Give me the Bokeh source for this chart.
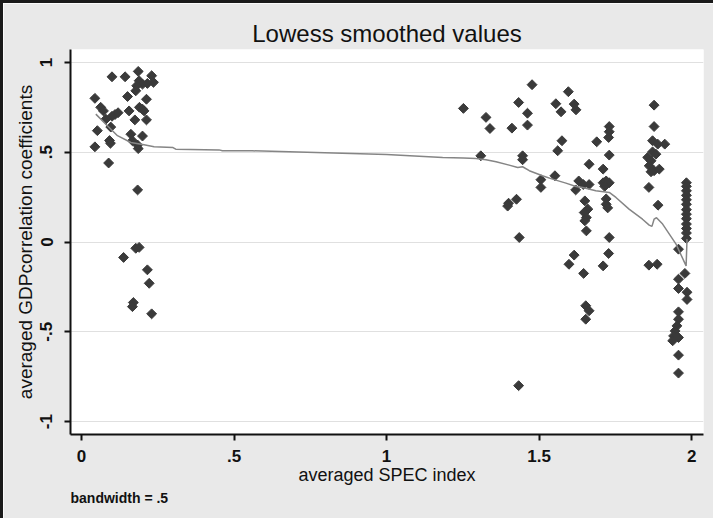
from bokeh.plotting import figure
from bokeh.models import FixedTicker, Range1d, Title
from bokeh.embed import file_html
from bokeh.resources import INLINE
import math

# ---- data ----
x_ticks = [0, 0.5, 1, 1.5, 2]
x_tick_labels = ["0", ".5", "1", "1.5", "2"]
y_ticks = [-1, -0.5, 0, 0.5, 1]
y_tick_labels = ["-1", "-.5", "0", ".5", "1"]

spec_x = [
    0.100, 0.143, 0.186, 0.230, 0.189, 0.200, 0.216, 0.236, 0.181, 0.178,
    0.044, 0.151, 0.213, 0.063, 0.072, 0.110, 0.120, 0.100, 0.080, 0.156,
    0.190, 0.200, 0.205, 0.175, 0.213, 0.052, 0.096, 0.162, 0.200, 0.092,
    0.095, 0.044, 0.167, 0.184, 0.186, 0.089, 0.184, 0.178, 0.189, 0.138,
    0.216, 0.222, 0.170, 0.167, 0.230,
    1.252, 1.477, 1.596, 1.433, 1.555, 1.572, 1.615, 1.621, 1.462, 1.326,
    1.339, 1.411, 1.462, 1.730, 1.730, 1.728, 1.689, 1.575, 1.561, 1.730,
    1.446, 1.446, 1.309, 1.664, 1.710, 1.552, 1.506, 1.506, 1.630, 1.645,
    1.664, 1.620, 1.710, 1.720, 1.730, 1.715, 1.400, 1.426, 1.397, 1.650,
    1.660, 1.648, 1.655, 1.650, 1.655, 1.720, 1.720, 1.725, 1.435, 1.730,
    1.728, 1.615, 1.598, 1.710, 1.646, 1.653, 1.664, 1.653, 1.433,
    1.877, 1.877, 1.872, 1.889, 1.912, 1.872, 1.883, 1.856, 1.867, 1.861,
    1.877, 1.894, 1.867, 1.860, 1.890, 1.860, 1.887,
    1.983, 1.983, 1.983, 1.983, 1.983, 1.983, 1.983, 1.983, 1.983, 1.983,
    1.983, 1.983, 1.983, 1.957, 1.978, 1.957, 1.957, 1.985, 1.985, 1.957,
    1.957, 1.952, 1.946, 1.941, 1.938, 1.957, 1.957, 1.957,
]
gdp_corr = [
    0.920, 0.920, 0.950, 0.926, 0.898, 0.879, 0.883, 0.889, 0.870, 0.842,
    0.800, 0.810, 0.795, 0.750, 0.730, 0.710, 0.720, 0.700, 0.684, 0.730,
    0.750, 0.740, 0.730, 0.680, 0.680, 0.620, 0.640, 0.600, 0.590, 0.565,
    0.550, 0.530, 0.564, 0.540, 0.520, 0.440, 0.290, -0.035, -0.030, -0.086,
    -0.155, -0.230, -0.337, -0.360, -0.400,
    0.744, 0.876, 0.837, 0.777, 0.770, 0.725, 0.768, 0.736, 0.717, 0.694,
    0.632, 0.634, 0.651, 0.643, 0.614, 0.582, 0.558, 0.564, 0.508, 0.484,
    0.480, 0.458, 0.480, 0.433, 0.406, 0.369, 0.347, 0.304, 0.340, 0.320,
    0.320, 0.290, 0.330, 0.340, 0.330, 0.310, 0.216, 0.238, 0.200, 0.229,
    0.183, 0.164, 0.136, 0.118, 0.062, 0.240, 0.210, 0.190, 0.025, 0.025,
    -0.064, -0.073, -0.124, -0.133, -0.175, -0.355, -0.383, -0.430, -0.800,
    0.762, 0.643, 0.564, 0.545, 0.545, 0.502, 0.489, 0.471, 0.452, 0.424,
    0.397, 0.406, 0.391, 0.304, 0.205, -0.129, -0.124,
    0.330, 0.310, 0.285, 0.260, 0.235, 0.210, 0.180, 0.155, 0.130, 0.100,
    0.075, 0.050, 0.020, -0.040, -0.175, -0.207, -0.259, -0.280, -0.320, -0.389,
    -0.430, -0.467, -0.495, -0.523, -0.550, -0.532, -0.630, -0.730,
]

lowess_x = [
    0.047, 0.085, 0.118, 0.162, 0.205, 0.238, 0.300, 0.309, 0.451, 0.462,
    0.560, 1.000, 1.184, 1.252, 1.293, 1.326, 1.359, 1.402, 1.430, 1.446,
    1.468, 1.511, 1.544, 1.588, 1.621, 1.643, 1.686, 1.730, 1.752, 1.795,
    1.839, 1.861, 1.870, 1.877, 1.885, 1.905, 1.949, 1.982, 1.985,
]
lowess_y = [
    0.712, 0.647, 0.592, 0.554, 0.541, 0.530, 0.526, 0.517, 0.513, 0.508,
    0.508, 0.487, 0.470, 0.468, 0.465, 0.458, 0.447, 0.428, 0.415, 0.419,
    0.397, 0.369, 0.350, 0.328, 0.309, 0.304, 0.285, 0.276, 0.248, 0.183,
    0.127, 0.094, 0.087, 0.127, 0.135, 0.100, -0.012, -0.133, 0.016,
]

FONT = "Liberation Sans"
BG = "#e9e9e9"

p = figure(
    width=713, height=518,
    x_range=Range1d(-0.036, 2.039), y_range=Range1d(-1.072, 1.072),
    output_backend="svg", toolbar_location=None,
    min_border_left=67, min_border_right=13, min_border_top=46, min_border_bottom=87,
    background_fill_color="white", border_fill_color=BG,
)
p.styles = {"border-left": "3px solid #1a1a1a", "border-top": "3px solid #1a1a1a"}
p.outline_line_color = None

p.title.text = "Lowess smoothed values"
p.title.align = "center"
p.title.text_font = FONT
p.title.text_font_size = "24px"
p.title.text_font_style = "normal"
p.title.text_color = "#111111"
p.title.standoff = 5

# grid
p.xgrid.grid_line_color = None
p.ygrid.ticker = FixedTicker(ticks=y_ticks)
p.ygrid.grid_line_color = "#e0e0e0"
p.ygrid.grid_line_width = 1

# axes
for ax in (p.xaxis[0], p.yaxis[0]):
    ax.axis_line_color = "#111111"
    ax.axis_line_width = 2
    ax.major_tick_line_color = "#111111"
    ax.major_tick_line_width = 2
    ax.major_tick_out = 6
    ax.major_tick_in = 0
    ax.minor_tick_line_color = None
    ax.major_label_text_font = FONT
    ax.major_label_text_font_size = "17px"
    ax.major_label_text_font_style = "bold"
    ax.major_label_text_color = "#111111"
    ax.axis_label_text_font = FONT
    ax.axis_label_text_font_size = "18px"
    ax.axis_label_text_font_style = "normal"
    ax.axis_label_text_color = "#111111"

p.xaxis.ticker = FixedTicker(ticks=x_ticks)
p.xaxis.major_label_overrides = dict(zip(x_ticks, x_tick_labels))
p.xaxis.axis_label = "averaged SPEC index"
p.xaxis.major_label_standoff = 9
p.xaxis.axis_label_standoff = 0

p.yaxis.ticker = FixedTicker(ticks=y_ticks)
p.yaxis.major_label_overrides = dict(zip(y_ticks, y_tick_labels))
p.yaxis.axis_label = "averaged GDPcorrelation coefficients"
p.yaxis.axis_label_text_font_size = "19px"
p.yaxis.major_label_orientation = "vertical"
p.yaxis.major_label_standoff = 12
p.yaxis.axis_label_standoff = 2

note = Title(text="bandwidth = .5", align="left", text_font=FONT,
             text_font_size="14px", text_font_style="bold", text_color="#111111",
             standoff=0)
p.add_layout(note, "below")

# data
p.scatter(spec_x, gdp_corr, marker="square", size=7, angle=math.pi / 4,
          fill_color="#3a3a3a", line_color="#3a3a3a", line_width=1)
p.line(lowess_x, lowess_y, line_color="#858585", line_width=1.5)

open("out.html", "w").write(file_html(p, INLINE))
